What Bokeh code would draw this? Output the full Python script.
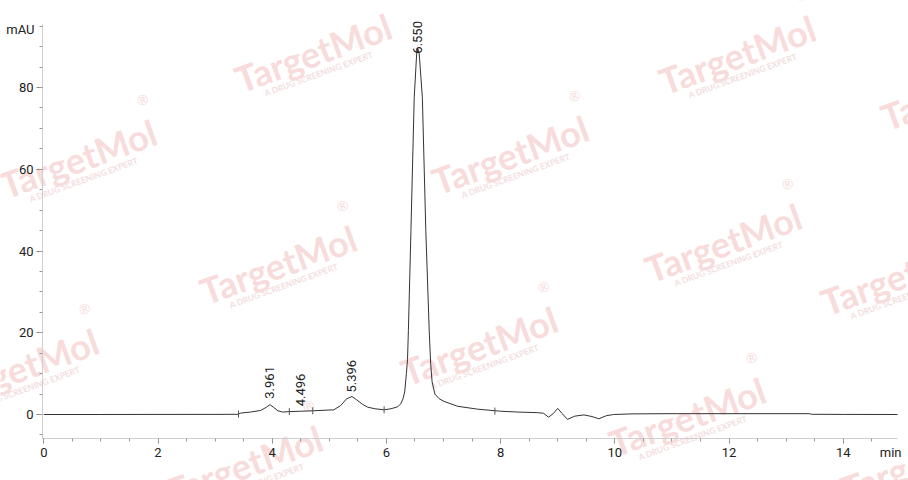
import math
from bokeh.plotting import figure
from bokeh.models import ColumnDataSource, Label, LabelSet, FixedTicker, LinearAxis
from bokeh.core.properties import value
from bokeh.embed import file_html
from bokeh.resources import INLINE

# ---------------- data ----------------
time_min = [0.0, 1.0, 2.0, 3.0, 3.40, 3.45, 3.62, 3.80, 3.90, 3.96, 4.02, 4.10, 4.18,
            4.30, 4.50, 4.70, 5.08, 5.20, 5.30, 5.396, 5.48, 5.58, 5.67, 5.80, 5.96,
            6.08, 6.20, 6.25, 6.29, 6.32, 6.35, 6.37, 6.385, 6.43, 6.487, 6.53, 6.55,
            6.575, 6.63, 6.69, 6.75, 6.775, 6.80, 6.85, 6.92, 7.01, 7.25, 7.60, 8.00,
            8.30, 8.65, 8.75, 8.84, 8.92, 9.00, 9.08, 9.17, 9.30, 9.46, 9.60, 9.72,
            9.85, 9.98, 10.30, 11.0, 12.0, 13.40, 13.45, 14.0, 14.95]
absorbance_mau = [0.0, 0.0, 0.02, 0.03, 0.05, 0.35, 0.6, 1.0, 1.8, 2.4, 1.8, 0.9, 0.6,
                  0.7, 0.8, 0.9, 1.15, 2.2, 3.8, 4.4, 3.6, 2.5, 1.8, 1.4, 1.15,
                  1.4, 1.9, 2.6, 3.8, 5.5, 10.0, 13.5, 20.5, 45.0, 77.5, 88.2, 89.5,
                  88.2, 77.5, 45.0, 20.5, 12.5, 8.0, 5.0, 3.9, 3.2, 2.0, 1.3, 0.8,
                  0.6, 0.45, 0.3, -0.65, 0.2, 1.5, 0.2, -1.2, -0.4, -0.1, -0.5, -1.05,
                  -0.3, 0.0, 0.15, 0.2, 0.2, 0.2, 0.05, 0.02, 0.0]

peak_times = [3.961, 4.496, 5.396, 6.550]
peak_labels = ["3.961", "4.496", "5.396", "6.550"]
peak_heights = [2.4, 0.8, 4.4, 89.5]

marker_times = [3.41, 4.30, 4.71, 5.96, 7.90]
marker_values = [0.1, 0.7, 0.9, 1.15, 0.85]

x_ticks = [0, 2, 4, 6, 8, 10, 12, 14]
y_ticks = [0, 20, 40, 60, 80]

# ---------------- layout / style ----------------
W, H = 908, 480
X0_PX, SX = 43.3, 57.1      # page x of t=0, pixels per minute
Y0_PX, SY = 414.0, 4.0875   # page y of 0 mAU, pixels per mAU
AX_L, AX_R, AX_T, AX_B = 42, 897, 24, 438   # axis extents in page pixels

def dx(px):
    return (px - X0_PX) / SX

def dy(py):
    return (Y0_PX - py) / SY

FONT = "Roboto"
WM_FONT = "Lato"

p = figure(width=W, height=H, output_backend="svg", toolbar_location=None,
           x_range=(dx(0), dx(W)), y_range=(dy(H), dy(0)),
           x_axis_location=None, y_axis_location=None,
           min_border=0, min_border_left=0, min_border_right=0,
           min_border_top=0, min_border_bottom=0)
p.outline_line_color = None
p.xgrid.grid_line_color = None
p.ygrid.grid_line_color = None
p.background_fill_color = "white"
p.border_fill_color = "white"

# ---- watermarks (underlay) ----
wm_anchors = [(236, 80), (660, 82), (1, 186), (433, 182), (882, 118), (201, 292),
              (646, 270), (402, 373), (822, 303), (-57, 395), (610, 444),
              (167, 492), (842, 490)]
ang = math.radians(20)
for ax, ay in wm_anchors:
    p.add_layout(Label(x=dx(ax), y=dy(ay), text="TargetMol", angle=20, angle_units="deg",
                       text_font=WM_FONT, text_font_style="bold", text_font_size="36px",
                       text_color="#f8dcdc", text_align="left", text_baseline="alphabetic",
                       level="underlay"))
    sx_ = ax + 22 * math.cos(ang) + 22 * math.sin(ang)
    sy_ = ay - 22 * math.sin(ang) + 22 * math.cos(ang)
    p.add_layout(Label(x=dx(sx_), y=dy(sy_), text="A DRUG SCREENING EXPERT", angle=20,
                       angle_units="deg", text_font=WM_FONT, text_font_style="bold",
                       text_font_size="8.5px", text_color="#f3e0e0", text_align="left",
                       text_baseline="alphabetic", level="underlay"))
    p.add_layout(Label(x=dx(ax + 141), y=dy(ay - 87), text="®", angle=20, angle_units="deg",
                       text_font=WM_FONT, text_font_size="14px", text_color="#f8dcdc",
                       text_align="center", text_baseline="middle", level="underlay"))

# ---- axes fixed at the chart's own positions ----
xaxis = LinearAxis(fixed_location=dy(AX_B), bounds=(dx(AX_L), dx(AX_R)),
                   ticker=FixedTicker(ticks=x_ticks, minor_ticks=[i * 0.5 for i in range(30)]))
yaxis = LinearAxis(fixed_location=dx(AX_L), bounds=(dy(AX_B), dy(AX_T)),
                   ticker=FixedTicker(ticks=y_ticks, minor_ticks=[-5 + i * 5 for i in range(21)]))
for axis in (xaxis, yaxis):
    axis.axis_line_color = "#cfcfcf"
    axis.major_tick_line_color = "#8a8a8a"
    axis.minor_tick_line_color = "#9a9a9a"
    axis.major_tick_in = 0
    axis.minor_tick_in = 0
    axis.major_label_text_font = FONT
    axis.major_label_text_font_size = "13px"
    axis.major_label_text_color = "#222222"
xaxis.major_tick_out = 5
xaxis.minor_tick_out = 3
yaxis.major_tick_out = 6
yaxis.minor_tick_out = 3
xaxis.major_label_standoff = 4
yaxis.major_label_standoff = 3
p.add_layout(xaxis, "below")
p.add_layout(yaxis, "left")

# ---- chromatogram ----
src = ColumnDataSource(dict(t=time_min, a=absorbance_mau))
p.line("t", "a", source=src, line_color="#333333", line_width=1)

msrc = ColumnDataSource(dict(t=marker_times, a=marker_values))
p.scatter("t", "a", source=msrc, marker="dash", angle=math.pi / 2, size=7,
          line_color="#555555", line_width=1)

# ---- peak labels ----
label_pad_px = [6, 5, 4, -5]
psrc = ColumnDataSource(dict(t=peak_times, h=peak_heights, txt=peak_labels, off=label_pad_px))
p.add_layout(LabelSet(x="t", y="h", text="txt", source=psrc, angle=90, angle_units="deg",
                      y_offset="off", text_font=value(FONT), text_font_size=value("13px"),
                      text_color="#222222", text_align="left", text_baseline="middle"))

# ---- unit labels ----
p.add_layout(Label(x=dx(34), y=dy(29), text="mAU", text_font=FONT, text_font_size="13px",
                   text_color="#222222", text_align="right", text_baseline="middle"))
p.add_layout(Label(x=dx(901), y=dy(452), text="min", text_font=FONT, text_font_size="13px",
                   text_color="#222222", text_align="right", text_baseline="middle"))

open("out.html", "w").write(file_html(p, INLINE))
